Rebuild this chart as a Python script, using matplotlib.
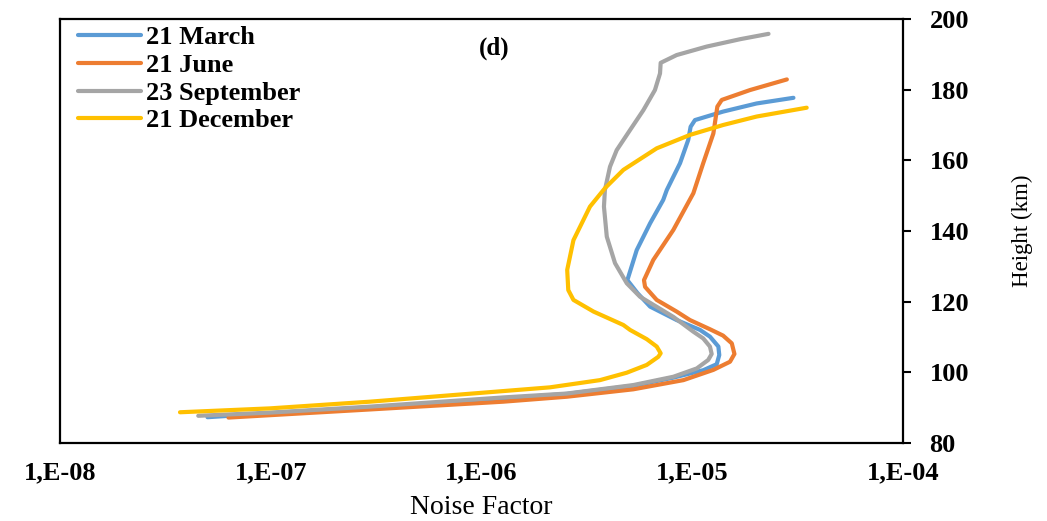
import matplotlib
matplotlib.use('Agg')
import matplotlib.pyplot as plt

# noise factor profiles vs height for four seasonal dates
heights_march = [87.3, 88.45, 90.1, 92.6, 93.9, 96.2, 98.5, 100.6, 102.3, 104.9, 107.3, 110.1,
                 112.0, 114.8, 118.6, 122.4, 126.1, 134.6, 142.2, 148.8, 151.6, 159.2, 165.8,
                 169.5, 171.4, 173.8, 176.1, 177.7]
noise_march = [5.01e-8, 9.91e-8, 2.96e-7, 1.27e-6, 2.54e-6, 5.25e-6, 8.13e-6, 1.127e-5, 1.306e-5,
               1.343e-5, 1.33e-5, 1.213e-5, 1.089e-5, 8.43e-6, 6.31e-6, 5.50e-6, 4.92e-6, 5.45e-6,
               6.31e-6, 7.28e-6, 7.57e-6, 8.75e-6, 9.57e-6, 9.82e-6, 1.03e-5, 1.40e-5, 2.02e-5,
               3.02e-5]

heights_june = [87.2, 89.5, 91.7, 93.1, 95.2, 97.8, 100.7, 103.0, 105.2, 108.2, 110.4, 112.2, 114.8,
                117.2, 120.5, 124.2, 126.1, 131.8, 140.3, 150.7, 159.2, 167.6, 175.2, 177.1, 179.9,
                182.9]
noise_june = [6.30e-8, 2.96e-7, 1.27e-6, 2.54e-6, 5.25e-6, 9.08e-6, 1.259e-5, 1.51e-5, 1.585e-5,
              1.54e-5, 1.40e-5, 1.213e-5, 9.75e-6, 8.43e-6, 6.78e-6, 5.97e-6, 5.90e-6, 6.53e-6,
              8.13e-6, 1.012e-5, 1.127e-5, 1.259e-5, 1.315e-5, 1.38e-5, 1.88e-5, 2.81e-5]

heights_sept = [87.7, 88.6, 90.3, 92.9, 94.0, 96.4, 98.75, 101.1, 103.5, 105.2, 107.3, 109.6, 111.5,
                115.7, 121.4, 125.2, 130.9, 138.4, 146.9, 151.6, 158.2, 162.9, 168.6, 174.2, 179.9,
                184.6, 187.6, 189.8, 192.2, 194.3, 195.8]
noise_sept = [4.53e-8, 9.91e-8, 2.96e-7, 1.27e-6, 2.54e-6, 5.25e-6, 8.13e-6, 1.05e-5, 1.19e-5,
              1.236e-5, 1.213e-5, 1.127e-5, 1.012e-5, 8.13e-6, 5.65e-6, 4.89e-6, 4.30e-6, 3.93e-6,
              3.81e-6, 3.85e-6, 4.07e-6, 4.38e-6, 5.07e-6, 5.86e-6, 6.65e-6, 7.03e-6, 7.08e-6,
              8.43e-6, 1.17e-5, 1.69e-5, 2.30e-5]

heights_dec = [88.7, 89.8, 91.7, 94.7, 95.75, 97.8, 99.9, 102.1, 104.4, 105.4, 107.3, 109.4, 112.0,
               113.4, 117.2, 120.5, 123.3, 129.0, 137.4, 146.9, 152.1, 157.3, 163.4, 167.2, 170.0,
               172.4, 174.9]
noise_dec = [3.71e-8, 9.91e-8, 2.96e-7, 1.27e-6, 2.11e-6, 3.65e-6, 4.89e-6, 6.08e-6, 6.90e-6,
             7.08e-6, 6.78e-6, 6.08e-6, 5.07e-6, 4.71e-6, 3.40e-6, 2.73e-6, 2.58e-6, 2.55e-6,
             2.73e-6, 3.27e-6, 3.85e-6, 4.71e-6, 6.78e-6, 9.75e-6, 1.40e-5, 2.02e-5, 3.49e-5]

series_labels = ['21 March', '21 June', '23 September', '21 December']
series_colors = ['#5B9BD5', '#ED7D31', '#A5A5A5', '#FFC000']

x_ticks = [1e-8, 1e-7, 1e-6, 1e-5, 1e-4]
x_tick_labels = ['1,E-08', '1,E-07', '1,E-06', '1,E-05', '1,E-04']
y_ticks = [80, 100, 120, 140, 160, 180, 200]

plt.rcParams['font.family'] = ['Liberation Serif', 'DejaVu Serif']

fig = plt.figure(figsize=(10.47, 5.21), dpi=100)
ax = fig.add_axes([0.0573, 0.1497, 0.8052, 0.8138])

data = [(noise_march, heights_march), (noise_june, heights_june),
        (noise_sept, heights_sept), (noise_dec, heights_dec)]
for (x, y), lab, col in zip(data, series_labels, series_colors):
    ax.plot(x, y, color=col, lw=3, label=lab, solid_capstyle='round', solid_joinstyle='round')

ax.set_xscale('log')
ax.set_xlim(1e-8, 1e-4)
ax.set_ylim(80, 200)
ax.set_xticks(x_ticks)
ax.set_xticklabels(x_tick_labels, fontsize=19, fontweight='bold')
ax.minorticks_off()
ax.tick_params(axis='x', length=0, pad=13)

ax.yaxis.tick_right()
ax.yaxis.set_label_position('right')
ax.set_yticks(y_ticks)
ax.set_yticklabels([str(v) for v in y_ticks], fontsize=19, fontweight='bold')
ax.tick_params(axis='y', direction='out', length=6, width=1.5, pad=13)

for sp in ax.spines.values():
    sp.set_linewidth(1.6)

ax.set_xlabel('Noise Factor', fontsize=20, labelpad=8)
ax.set_ylabel('Height (km)', fontsize=16.5, labelpad=31)

ax.text(0.515, 0.932, '(d)', transform=ax.transAxes, fontsize=18, fontweight='bold',
        ha='center', va='center')

ax.legend(loc='upper left', bbox_to_anchor=(0.018, 0.99), frameon=False,
          prop={'size': 19, 'weight': 'bold'}, handlelength=2.4, handletextpad=0.2,
          labelspacing=0.16, borderpad=0.1, borderaxespad=0)

fig.savefig('out.png', dpi=100)
